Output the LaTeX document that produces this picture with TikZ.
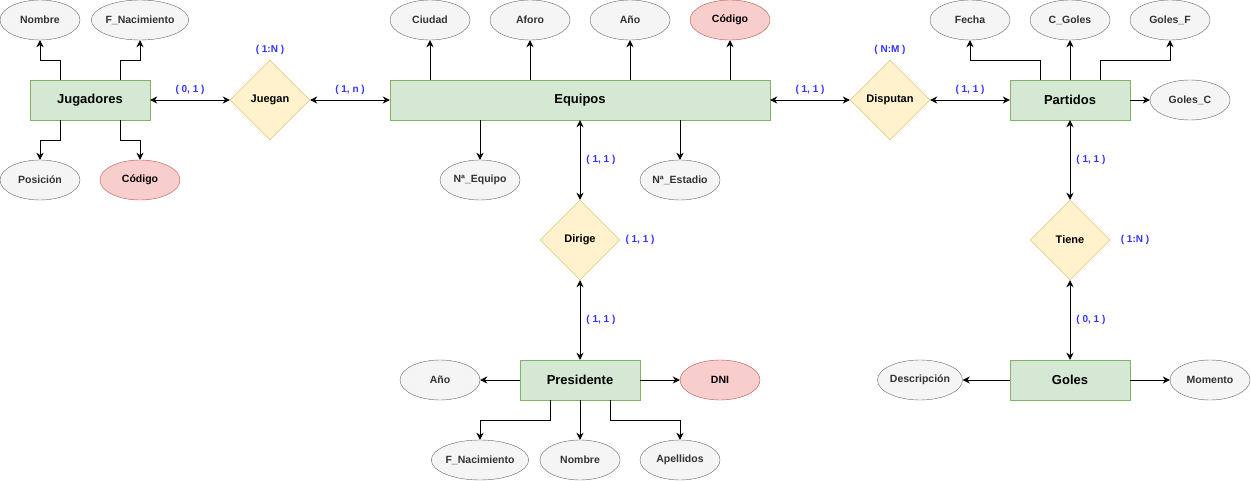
\documentclass[tikz,border=0pt]{standalone}
\usepackage{fontspec}
\setmainfont{Liberation Sans}
\usetikzlibrary{arrows.meta,shapes.geometric}
\definecolor{entfill}{HTML}{D5E8D4}
\definecolor{entline}{HTML}{82B366}
\definecolor{relfill}{HTML}{FFF2CC}
\definecolor{relline}{HTML}{D6B656}
\definecolor{attfill}{HTML}{F5F5F5}
\definecolor{attline}{HTML}{666666}
\definecolor{atttext}{HTML}{333333}
\definecolor{keyfill}{HTML}{F8CECC}
\definecolor{keyline}{HTML}{B85450}
\definecolor{cardtext}{HTML}{3333FF}
\tikzset{
  entity/.style={rectangle, draw=entline, fill=entfill, minimum width=120pt, minimum height=40pt,
    inner sep=0pt, font=\fontsize{13}{15}\selectfont\bfseries},
  wideentity/.style={entity, minimum width=380pt},
  relation/.style={diamond, draw=relline, fill=relfill, minimum width=80pt, minimum height=80pt,
    inner sep=0pt, aspect=1, font=\fontsize{11}{13}\selectfont\bfseries},
  attrib/.style={ellipse, draw=attline, fill=attfill, minimum width=80pt, minimum height=40pt,
    inner sep=0pt, text=atttext, font=\fontsize{10.5}{12}\selectfont\bfseries},
  keyattrib/.style={attrib, draw=keyline, fill=keyfill, text=black},
  card/.style={text=cardtext, font=\fontsize{10}{12}\selectfont\bfseries, inner sep=0pt},
  link/.style={draw=black, line width=0.9pt, -{Stealth[length=7pt,width=7pt,inset=2.2pt]}},
  dlink/.style={link, {Stealth[length=7pt,width=7pt,inset=2.2pt]}-{Stealth[length=7pt,width=7pt,inset=2.2pt]}},
}
\begin{document}
\begin{tikzpicture}[x=1pt, y=-1pt]
\useasboundingbox (0,0) rectangle (1251,481);

% Jugadores
\node[entity] (jug) at (90,100) {Jugadores};
\node[attrib] (jnom) at (40,20) {Nombre};
\node[attrib] (jfn) at (140,20) {F\_Nacimiento};
\node[attrib] (jpos) at (40,180) {Posición};
\node[keyattrib] (jcod) at (140,180) {Código};

% Juegan
\node[relation] (jue) at (270,100) {Juegan};
\node[card] (cjue) at (270,50) {( 1:N )};

% Equipos
\node[wideentity] (equ) at (580,100) {Equipos};
\node[attrib] (eciu) at (430,20) {Ciudad};
\node[attrib] (eafo) at (530,20) {Aforo};
\node[attrib] (eano) at (630,20) {Año};
\node[keyattrib] (ecod) at (730,20) {Código};
\node[attrib] (eneq) at (480,180) {Nª\_Equipo};
\node[attrib] (enes) at (680,180) {Nª\_Estadio};

% Dirige
\node[relation] (dir) at (580,240) {Dirige};
\node[card] (cdir) at (640,240) {( 1, 1 )};

% Presidente
\node[entity] (pre) at (580,380) {Presidente};
\node[attrib] (pano) at (440,380) {Año};
\node[keyattrib] (pdni) at (720,380) {DNI};
\node[attrib] (pfn) at (480,460) {F\_Nacimiento};
\node[attrib] (pnom) at (580,460) {Nombre};
\node[attrib] (pape) at (680,460) {Apellidos};

% Disputan
\node[relation] (dis) at (890,100) {Disputan};
\node[card] (cdis) at (890,50) {( N:M )};

% Partidos
\node[entity] (par) at (1070,100) {Partidos};
\node[attrib] (pfec) at (970,20) {Fecha};
\node[attrib] (pcg) at (1070,20) {C\_Goles};
\node[attrib] (pgf) at (1170,20) {Goles\_F};
\node[attrib] (pgc) at (1190,100) {Goles\_C};

% Tiene
\node[relation] (tie) at (1070,240) {Tiene};
\node[card] (ctie) at (1135,240) {( 1:N )};

% Goles
\node[entity] (gol) at (1070,380) {Goles};
\node[attrib] (gdes) at (920,380) {Descripción};
\node[attrib] (gmom) at (1210,380) {Momento};

% Jugadores attributes
\draw[link] ([xshift=-30pt]jug.north) |- (40,60) -- (jnom.south);
\draw[link] ([xshift=30pt]jug.north) |- (140,60) -- (jfn.south);
\draw[link] ([xshift=-30pt]jug.south) |- (40,140) -- (jpos.north);
\draw[link] ([xshift=30pt]jug.south) |- (140,140) -- (jcod.north);

% Equipos attributes
\draw[link] (eciu.south |- equ.north) -- (eciu.south);
\draw[link] (eafo.south |- equ.north) -- (eafo.south);
\draw[link] (eano.south |- equ.north) -- (eano.south);
\draw[link] (ecod.south |- equ.north) -- (ecod.south);
\draw[link] (eneq.north |- equ.south) -- (eneq.north);
\draw[link] (enes.north |- equ.south) -- (enes.north);

% Presidente attributes
\draw[link] (pre.west) -- (pano.east);
\draw[link] (pre.east) -- (pdni.west);
\draw[link] ([xshift=-30pt]pre.south) |- (480,420) -- (pfn.north);
\draw[link] (pre.south) -- (pnom.north);
\draw[link] ([xshift=30pt]pre.south) |- (680,420) -- (pape.north);

% Partidos attributes
\draw[link] ([xshift=-30pt]par.north) |- (970,60) -- (pfec.south);
\draw[link] (par.north) -- (pcg.south);
\draw[link] ([xshift=30pt]par.north) |- (1170,60) -- (pgf.south);
\draw[link] (par.east) -- (pgc.west);

% Goles attributes
\draw[link] (gol.west) -- (gdes.east);
\draw[link] (gol.east) -- (gmom.west);

% Relationships
\draw[dlink] (jug.east) -- node[card, above=5pt] {( 0, 1 )} (jue.west);
\draw[dlink] (jue.east) -- node[card, above=5pt] {( 1, n )} (equ.west);
\draw[dlink] (equ.east) -- node[card, above=5pt] {( 1, 1 )} (dis.west);
\draw[dlink] (dis.east) -- node[card, above=5pt] {( 1, 1 )} (par.west);
\draw[dlink] (equ.south) -- node[card, right=6pt] {( 1, 1 )} (dir.north);
\draw[dlink] (dir.south) -- node[card, right=6pt] {( 1, 1 )} (pre.north);
\draw[dlink] (par.south) -- node[card, right=6pt] {( 1, 1 )} (tie.north);
\draw[dlink] (tie.south) -- node[card, right=6pt] {( 0, 1 )} (gol.north);
\end{tikzpicture}
\end{document}
